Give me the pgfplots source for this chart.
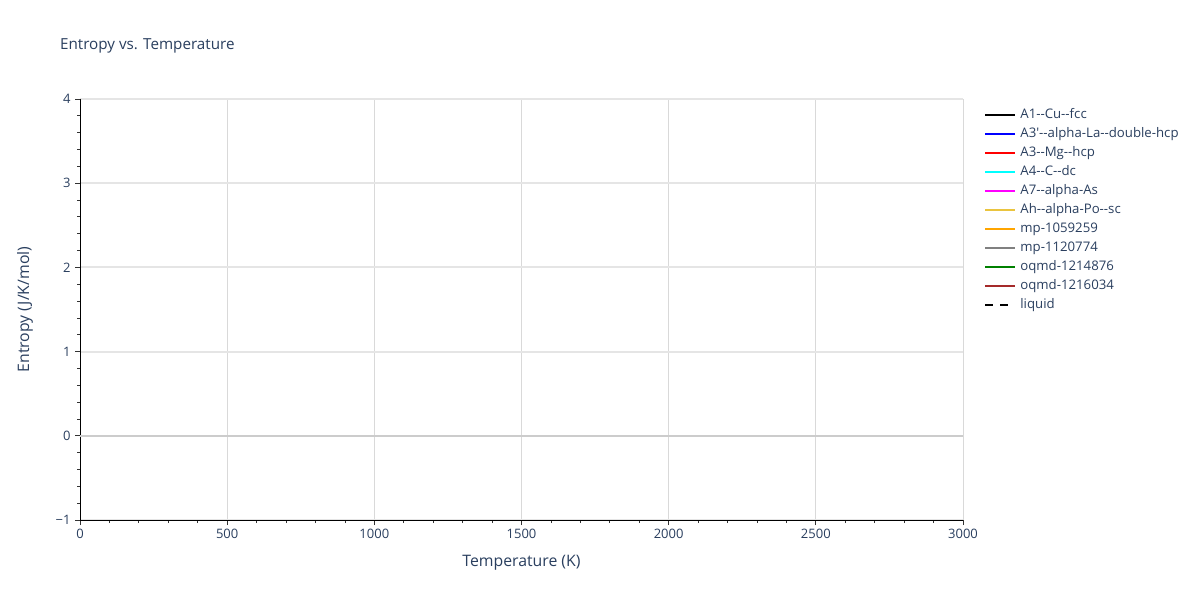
\documentclass[border=0pt]{standalone}
\usepackage{fontspec}
\setmainfont{Open Sans}[Ligatures=TeXOff]
\usepackage{pgfplots}
\pgfplotsset{compat=1.18}
\definecolor{txt}{HTML}{2A3F5F}
\definecolor{gridh}{HTML}{E5E5E5}
\definecolor{gridv}{HTML}{D9D9D9}
\definecolor{zeroc}{HTML}{CCCCCC}
\definecolor{ccyan}{HTML}{00FFFF}
\definecolor{cmag}{HTML}{FF00FF}
\definecolor{cblue}{HTML}{0000FF}
\definecolor{cred}{HTML}{FF0000}
\definecolor{cgold}{HTML}{EAC43F}
\definecolor{corange}{HTML}{FFA500}
\definecolor{cgray}{HTML}{808080}
\definecolor{cgreen}{HTML}{008000}
\definecolor{cbrown}{HTML}{A52A2A}
\newcommand{\dd}{-{}-}
\begin{document}
\begin{tikzpicture}[x=1pt,y=1pt]
\path[fill=white] (0,0) rectangle (1200,600);
\node[anchor=base west,text=txt,font=\fontsize{15.2}{17}\selectfont,inner sep=0] at (60,550) {Entropy vs. Temperature};
\begin{axis}[
  at={(80pt,80pt)}, anchor=south west,
  scale only axis, width=883pt, height=421pt,
  xmin=0, xmax=3000, ymin=-1, ymax=4,
  axis x line*=bottom, axis y line*=left,
  axis line style={black, line width=1pt},
  xtick={0,500,...,3000}, minor xtick={0,100,...,3000},
  ytick={-1,0,1,2,3,4}, minor ytick={-1,-0.8,...,4},
  yticklabels={−1,0,1,2,3,4},
  xticklabels={0,500,1000,1500,2000,2500,3000},
  tick align=outside,
  major tick length=5pt, minor tick length=3pt,
  every tick/.style={black!80, line width=0.8pt},
  tick label style={text=txt, font=\fontsize{13}{15}\selectfont},
  xticklabel style={yshift=-1pt},
  yticklabel style={xshift=-1pt},
  xmajorgrids, ymajorgrids,
  x grid style={gridv, line width=1pt},
  y grid style={gridh, line width=2pt},
  xlabel={Temperature (K)}, ylabel={Entropy (J/K/mol)},
  label style={text=txt, font=\fontsize{15.8}{17}\selectfont},
  xlabel style={at={([yshift=-43pt]axis description cs:0.5,0)}, anchor=center},
  ylabel style={at={([xshift=-55pt]axis description cs:0,0.5)}, anchor=center},
  clip=false,
  legend style={at={(axis description cs:1.024,0.976)}, anchor=north west,
    draw=none, fill=none, font=\fontsize{13.2}{13.2}\selectfont, text=txt,
    row sep=7pt, inner sep=0pt,
    nodes={text height=9pt, text depth=3pt, inner ysep=0pt, inner xsep=4pt}},
  legend cell align=left,
  legend image code/.code={\draw[#1, line width=2pt] (0pt,0pt) -- (30pt,0pt);},
]
\draw[zeroc, line width=2pt] (axis cs:0,0) -- (axis cs:3000,0);
\addlegendimage{black}\addlegendentry{A1\dd Cu\dd fcc}
\addlegendimage{cblue}\addlegendentry{A3'\dd alpha-La\dd double-hcp}
\addlegendimage{cred}\addlegendentry{A3\dd Mg\dd hcp}
\addlegendimage{ccyan}\addlegendentry{A4\dd C\dd dc}
\addlegendimage{cmag}\addlegendentry{A7\dd alpha-As}
\addlegendimage{cgold}\addlegendentry{Ah\dd alpha-Po\dd sc}
\addlegendimage{corange}\addlegendentry{mp-1059259}
\addlegendimage{cgray}\addlegendentry{mp-1120774}
\addlegendimage{cgreen}\addlegendentry{oqmd-1214876}
\addlegendimage{cbrown}\addlegendentry{oqmd-1216034}
\addlegendimage{black, dash pattern=on 8pt off 7pt}\addlegendentry{liquid}
\end{axis}
\end{tikzpicture}
\end{document}
